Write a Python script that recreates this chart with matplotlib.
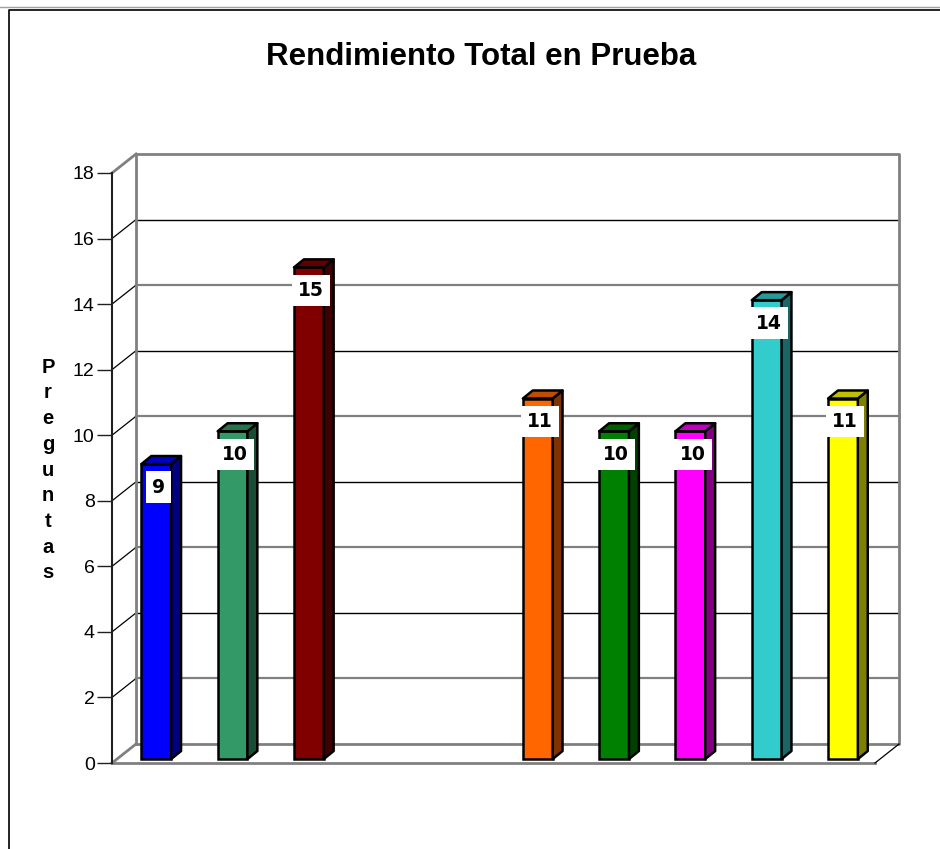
import numpy as np
import matplotlib.pyplot as plt
from matplotlib.patches import Polygon
from matplotlib.lines import Line2D

# data
valores = [9, 10, 15, np.nan, np.nan, 11, 10, 10, 14, 11]
colores = ['#0000FF', '#339966', '#800000', '#FFFFFF', '#FFFFFF',
           '#FF6600', '#008000', '#FF00FF', '#33CCCC', '#FFFF00']
yticks = list(range(0, 19, 2))
titulo = 'Rendimiento Total en Prueba'
ylab = 'Preguntas'


def shade(c, f):
    r, g, b = plt.matplotlib.colors.to_rgb(c)
    return (r * f, g * f, b * f)


fig = plt.figure(figsize=(9.4, 8.49), dpi=100)
ax = fig.add_axes([112 / 940, 86 / 849, 763 / 940, 590 / 849])
ax.set_xlim(-0.5, 9.5)
ax.set_ylim(0, 18)

# 3d offsets (data units)
dx, dy = 0.315, 0.58      # back wall
bdx, bdy = 0.13, 0.245    # bar depth
boff, base, bw = 0.08, 0.12, 0.39

gray = '#808080'
kw = dict(clip_on=False)

# back wall + gridlines
for k, v in enumerate(yticks[1:-1]):
    c = 'black' if (v // 2) % 2 == 0 else gray
    lw = 1.0 if c == 'black' else 1.6
    ax.plot([-0.5 + dx, 9.5 + dx], [v + dy, v + dy], color=c, lw=lw, zorder=1, **kw)
    ax.plot([-0.5, -0.5 + dx], [v, v + dy], color='black', lw=0.9, zorder=1, **kw)
ax.plot([-0.5 + dx, -0.5 + dx, 9.5 + dx, 9.5 + dx, -0.5 + dx],
        [dy, 18 + dy, 18 + dy, dy, dy], color=gray, lw=2, zorder=1, **kw)
ax.plot([-0.5, -0.5 + dx], [18, 18 + dy], color=gray, lw=2, zorder=1, **kw)
ax.plot([-0.5, -0.5 + dx], [0, dy], color=gray, lw=2, zorder=1, **kw)
ax.plot([-0.5, 9.5], [0, 0], color=gray, lw=2, zorder=1, **kw)
ax.plot([9.5, 9.5 + dx], [0, dy], color='black', lw=0.9, zorder=1, **kw)

# bars
x = np.arange(len(valores))
xc = x + boff
ax.bar(xc, valores, width=bw, bottom=base, color=colores,
       edgecolor='black', linewidth=1.8, zorder=3)
for xi, v, c in zip(xc, valores, colores):
    if np.isnan(v):
        continue
    x0, x1 = xi - bw / 2, xi + bw / 2
    y0, y1 = base, base + v
    side = Polygon([(x1, y0), (x1 + bdx, y0 + bdy), (x1 + bdx, y1 + bdy), (x1, y1)],
                   facecolor=shade(c, 0.5), edgecolor='black', lw=1.8, zorder=3, joinstyle='round')
    top = Polygon([(x0, y1), (x1, y1), (x1 + bdx, y1 + bdy), (x0 + bdx, y1 + bdy)],
                  facecolor=shade(c, 0.75), edgecolor='black', lw=1.8, zorder=3, joinstyle='round')
    ax.add_patch(side)
    ax.add_patch(top)
    ax.text(xi + 0.03, y1 - 0.7, str(int(v)), ha='center', va='center',
            fontsize=13.5, fontweight='bold', family='DejaVu Sans', zorder=5,
            bbox=dict(facecolor='white', edgecolor='none', pad=4.5))

# axes styling
for s in ['top', 'right', 'bottom']:
    ax.spines[s].set_visible(False)
ax.spines['left'].set_color('#202020')
ax.spines['left'].set_linewidth(1.5)
ax.set_xticks([])
ax.set_yticks(yticks)
ax.set_yticklabels([str(t) for t in yticks], family='Liberation Sans', fontsize=14)
ax.tick_params(axis='y', length=10.5, width=1, color='#202020', pad=2)
ax.patch.set_alpha(0)

fig.text(481 / 940, 1 - 57 / 849, titulo, ha='center', va='center',
         fontsize=22.5, fontweight='bold', family='Liberation Sans')
fig.text(48 / 940, 1 - 470 / 849, '\n'.join(ylab), ha='center', va='center',
         fontsize=14.5, fontweight='bold', family='Liberation Sans', linespacing=1.45)

# outer frame
fig.add_artist(Line2D([0, 1], [1 - 7 / 849, 1 - 7 / 849], color='#a0a0a0', lw=1))
fig.add_artist(Line2D([9 / 940, 9 / 940, 1], [0, 1 - 10 / 849, 1 - 10 / 849], color='black', lw=1.2))

fig.savefig('out.png', dpi=100)
